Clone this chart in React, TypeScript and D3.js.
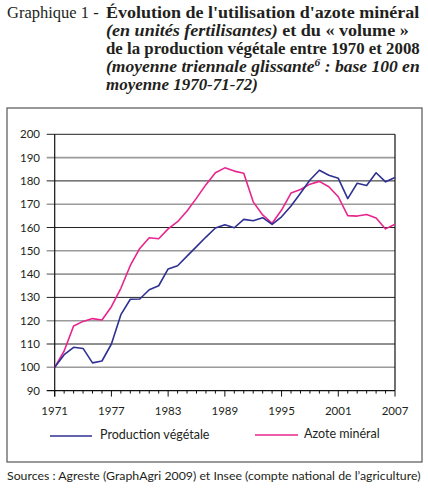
import React, { useLayoutEffect, useRef, useState } from "react";
import * as d3 from "d3";

const years: number[] = d3.range(1971, 2008);
const production: number[] = [
  100, 105.4, 108.6, 108.1, 101.9, 102.7, 110, 122.6, 129.2, 129.3,
  133.3, 135, 142.2, 143.6, 147.7, 151.8, 155.9, 159.8, 161.2, 159.9,
  163.5, 162.9, 164.2, 161.3, 164.6, 169.2, 174.7, 180.4, 184.6, 182.4,
  181.1, 172.4, 179, 178, 183.5, 179.6, 181.5,
];
const azote: number[] = [
  100, 107, 117.7, 119.7, 120.9, 120.3, 126, 133.9, 143.7, 151,
  155.6, 155.2, 159.4, 162.5, 167.1, 172.6, 178.4, 183.5, 185.6, 184.2,
  183.3, 171, 165.4, 161.8, 167.5, 174.8, 176.3, 178.6, 179.8, 177.5,
  173.2, 165.1, 164.9, 165.6, 164.1, 159.4, 161.4,
];
const yTicks: number[] = [90, 100, 110, 120, 130, 140, 150, 160, 170, 180, 190, 200];
const xTickLabels: number[] = [1971, 1977, 1983, 1989, 1995, 2001, 2007];
const darkGrid: number[] = [200, 180, 160, 130, 110];
const seriesNames: string[] = ["Production végétale", "Azote minéral"];

const BLUE = "#2e3192";
const PINK = "#e8258e";

const TITLE_X = 106;
const titleTargets = [314, 303, 314, 314, 152];

export default function App() {
  const x = d3.scaleLinear().domain([1971, 2007]).range([54.7, 395]);
  const y = d3.scaleLinear().domain([90, 200]).range([390.6, 134.3]);
  const line = d3
    .line<number>()
    .x((_, i) => x(years[i]))
    .y((d) => y(d));

  const titleFont = "'Liberation Serif', 'Times New Roman', serif";
  const sans = "Lato, 'Open Sans', sans-serif";

  const refs = useRef<(SVGTextElement | null)[]>([]);
  const [scales, setScales] = useState<number[]>([1, 1, 1, 1, 1]);
  useLayoutEffect(() => {
    const s = refs.current.map((el, i) => {
      if (!el) return 1;
      const w = el.getBBox().width;
      return w > 0 ? titleTargets[i] / w : 1;
    });
    setScales(s);
  }, []);
  const tf = (i: number) =>
    `translate(${TITLE_X},0) scale(${scales[i]},1) translate(${-TITLE_X},0)`;

  return (
    <svg
      width={428}
      height={494}
      style={{ position: "absolute", left: 0, top: 0, background: "#fff" }}
    >
      {/* Title */}
      <g fontFamily={titleFont} fontSize={16} fill="#231f20">
        <text x={7} y={18} fontSize={16.5}>Graphique 1 -</text>
        <text ref={(el) => { refs.current[0] = el; }} transform={tf(0)} x={TITLE_X} y={18} fontWeight="bold">
          Évolution de l'utilisation d'azote minéral
        </text>
        <text ref={(el) => { refs.current[1] = el; }} transform={tf(1)} x={TITLE_X} y={36} fontWeight="bold">
          <tspan fontStyle="italic">(en unités fertilisantes)</tspan> et du « volume »
        </text>
        <text ref={(el) => { refs.current[2] = el; }} transform={tf(2)} x={TITLE_X} y={54} fontWeight="bold">
          de la production végétale entre 1970 et 2008
        </text>
        <text ref={(el) => { refs.current[3] = el; }} transform={tf(3)} x={TITLE_X} y={72} fontWeight="bold" fontStyle="italic">
          (moyenne triennale glissante<tspan fontSize={10.5} dy={-6}>6</tspan>
          <tspan dy={6}> : base 100 en</tspan>
        </text>
        <text ref={(el) => { refs.current[4] = el; }} transform={tf(4)} x={TITLE_X} y={90} fontWeight="bold" fontStyle="italic">
          moyenne 1970-71-72)
        </text>
      </g>

      {/* Frame */}
      <rect x={7} y={108} width={415} height={354} fill="none" stroke="#555" strokeWidth={1.2} />

      {/* Grid lines */}
      {yTicks.map((t) => (
        <line
          key={t}
          x1={46.7}
          x2={395}
          y1={y(t)}
          y2={y(t)}
          stroke={t === 90 ? "#111" : darkGrid.includes(t) ? "#222" : "#9a9a9a"}
          strokeWidth={t === 90 ? 1.2 : darkGrid.includes(t) ? 1 : 1.6}
        />
      ))}
      {/* Axes */}
      <line x1={x(1971)} x2={x(1971)} y1={y(200)} y2={y(90) + 6} stroke="#111" strokeWidth={1.2} />
      <line x1={x(2007)} x2={x(2007)} y1={y(200)} y2={y(90)} stroke="#111" strokeWidth={1.2} />
      {years.map((yr) => {
        const major = xTickLabels.includes(yr);
        return (
          <line
            key={yr}
            x1={x(yr)}
            x2={x(yr)}
            y1={y(90)}
            y2={y(90) + (major ? 6 : 3)}
            stroke="#111"
            strokeWidth={1}
          />
        );
      })}

      {/* Y labels */}
      <g fontFamily={sans} fontSize={11.5} fill="#231f20" textAnchor="end">
        {yTicks.map((t) => (
          <text key={t} x={40} y={y(t) + 4}>
            {t}
          </text>
        ))}
      </g>
      {/* X labels */}
      <g fontFamily={sans} fontSize={11.5} fill="#231f20" textAnchor="middle">
        {xTickLabels.map((t) => (
          <text key={t} x={x(t)} y={415}>
            {t}
          </text>
        ))}
      </g>

      {/* Series */}
      <path d={line(azote) ?? ""} fill="none" stroke={PINK} strokeWidth={1.6} strokeLinejoin="round" />
      <path d={line(production) ?? ""} fill="none" stroke={BLUE} strokeWidth={1.6} strokeLinejoin="round" />

      {/* Legend */}
      <g fontFamily={sans} fontSize={12.5} fill="#231f20">
        <line x1={50} x2={92} y1={436} y2={436} stroke={BLUE} strokeWidth={1.6} />
        <text x={100} y={439}>{seriesNames[0]}</text>
        <line x1={255} x2={298} y1={435} y2={435} stroke={PINK} strokeWidth={1.6} />
        <text x={304} y={438}>{seriesNames[1]}</text>
      </g>

      {/* Source */}
      <text x={7} y={480} fontFamily={sans} fontSize={12.3} fill="#231f20">
        Sources : Agreste (GraphAgri 2009) et Insee (compte national de l’agriculture)
      </text>
    </svg>
  );
}
